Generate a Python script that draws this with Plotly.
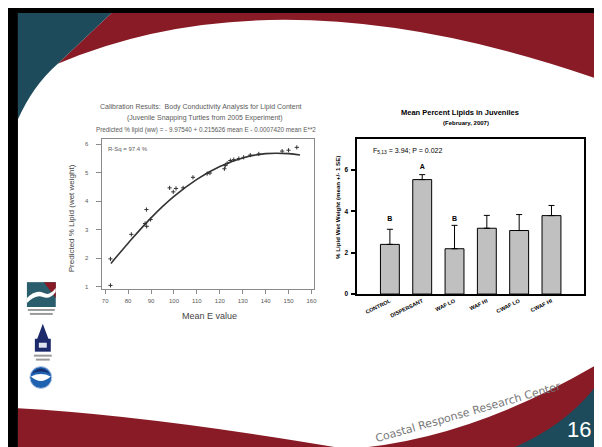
import plotly.graph_objects as go

W, H = 602, 447

# ---- Left chart: calibration scatter + fitted curve ----
mean_e = [72.3, 72.3, 81.4, 87.4, 88.0, 88.1, 89.8, 98.1, 99.7, 100.9, 104.0, 108.3,
          114.5, 115.7, 122.0, 122.4, 123.2, 124.6, 126.1, 128.3, 130.4, 133.3, 137.0,
          147.2, 150.0, 153.6]
pred_lipid = [1.05, 1.98, 2.84, 3.22, 3.71, 3.12, 3.36, 4.47, 4.33, 4.45, 4.47, 4.84,
              4.97, 4.99, 5.14, 5.25, 5.33, 5.43, 5.46, 5.50, 5.54, 5.62, 5.66,
              5.76, 5.79, 5.89]
fit_e = [72.5, 80, 90, 100, 110, 120, 130, 140, 150, 155]
fit_lipid = [1.82, 2.53, 3.42, 4.17, 4.77, 5.22, 5.52, 5.67, 5.67, 5.62]
calib_xticks = [70, 80, 90, 100, 110, 120, 130, 140, 150, 160]
calib_yticks = [1, 2, 3, 4, 5, 6]

# ---- Right chart: mean percent lipids ----
categories = ["CONTROL", "DISPERSANT", "WAF LO", "WAF HI", "CWAF LO", "CWAF HI"]
mean_lipid = [2.40, 5.53, 2.19, 3.18, 3.07, 3.79]
se_lipid = [0.73, 0.24, 1.13, 0.62, 0.77, 0.49]
group_letters = ["B", "A", "B"]
letter_cats = ["CONTROL", "DISPERSANT", "WAF LO"]
letter_y = [3.63, 6.14, 3.63]
bar_yticks = [0, 2, 4, 6]

FONT = "Liberation Sans"
GRAY = "#5a5a5a"
TEAL = "#1e4b5b"
RED = "#891b26"


def px(x):
    return x / W


def py(y):
    return 1 - y / H


def P(x, y):
    return f"{px(x):.4f},{py(y):.4f}"


fig = go.Figure()

fig.add_trace(go.Scatter(
    x=fit_e, y=fit_lipid, mode="lines", line=dict(color="#333333", width=1.6, shape="spline"),
    xaxis="x", yaxis="y", showlegend=False, hoverinfo="skip"))
fig.add_trace(go.Scatter(
    x=mean_e, y=pred_lipid, mode="markers",
    marker=dict(symbol="cross-thin", size=3, line=dict(color="#333333", width=1)),
    xaxis="x", yaxis="y", showlegend=False))

fig.add_trace(go.Bar(
    x=categories, y=mean_lipid, width=0.585,
    marker=dict(color="#c0c0c0", line=dict(color="black", width=1)),
    error_y=dict(type="data", array=se_lipid, arrayminus=[0] * len(se_lipid),
                 symmetric=False, color="black", thickness=1, width=3),
    xaxis="x2", yaxis="y2", showlegend=False))

fig.add_trace(go.Scatter(
    x=letter_cats, y=letter_y, mode="text", text=group_letters,
    textfont=dict(family=FONT, size=7, color="black", weight="bold"),
    xaxis="x2", yaxis="y2", showlegend=False, hoverinfo="skip"))

fig.update_layout(
    width=W, height=H, margin=dict(l=0, r=0, t=0, b=0),
    paper_bgcolor="white", plot_bgcolor="white",
    font=dict(family=FONT),
    xaxis=dict(domain=[px(94), px(308)], range=[68.4, 161.3], tickvals=calib_xticks,
               anchor="y",
               showgrid=False, zeroline=False, showline=True, mirror=True,
               linecolor="#8a8a8a", linewidth=1, ticks="outside", ticklen=4,
               tickcolor="#8a8a8a", ticklabelstandoff=2,
               tickfont=dict(size=6, color=GRAY, family=FONT)),
    yaxis=dict(domain=[py(283), py(132)], range=[0.92, 6.18], tickvals=calib_yticks,
               anchor="x",
               showgrid=False, zeroline=False, showline=True, mirror=True,
               linecolor="#8a8a8a", linewidth=1, ticks="outside", ticklen=5,
               tickcolor="#8a8a8a", ticklabelstandoff=6,
               tickfont=dict(size=6, color=GRAY, family=FONT)),
    xaxis2=dict(domain=[px(351), px(579)], range=[-1.01, 6.01], type="category",
                anchor="y2",
                showgrid=False, zeroline=False, showline=True, mirror=True,
                linecolor="black", linewidth=1.5, ticks="", tickangle=-26,
                tickfont=dict(size=5.5, color="black", family=FONT, weight="bold")),
    yaxis2=dict(domain=[py(288), py(131.7)], range=[0, 7.5], tickvals=bar_yticks,
                anchor="x2",
                showgrid=False, zeroline=False, showline=True, mirror=True,
                linecolor="black", linewidth=1.5, ticks="outside", ticklen=5,
                tickwidth=1.5, tickcolor="black", ticklabelstandoff=1,
                tickfont=dict(size=6.5, color="black", family=FONT, weight="bold")),
)

ann = []


def text(x, y, s, size, color="black", bold=False, angle=0, xanchor="center", family=FONT):
    ann.append(dict(x=px(x), y=py(y), xref="paper", yref="paper", text=s, showarrow=False,
                    xanchor=xanchor, yanchor="middle", textangle=angle,
                    font=dict(family=family, size=size, color=color,
                              weight="bold" if bold else "normal")))


text(194, 100, "Calibration Results:  Body Conductivity Analysis for Lipid Content", 7, GRAY)
text(198, 111, "(Juvenile Snapping Turtles from 2005 Experiment)", 7, GRAY)
text(199, 123, "Predicted % lipid (ww) = - 9.97540 + 0.215626 mean E - 0.0007420 mean E**2", 6.3, GRAY)
text(98, 141.5, "R-Sq = 97.4 %", 6, GRAY, xanchor="left")
text(203, 310, "Mean E value", 9, "#444444")
text(64, 212, "Predicted % Lipid (wet weight)", 8, "#444444", angle=-90)

text(454, 105, "Mean Percent Lipids in Juveniles", 7.5, bold=True)
text(460, 115.5, "(February, 2007)", 6, bold=True)
text(365, 143.5, "F<sub>5,13</sub> = 3.94; P = 0.022", 7, xanchor="left")
text(331, 201, "% Lipid Wet Weight (mean +/- 1 SE)", 6.2, bold=True, angle=-90)

text(462, 407, "Coastal Response Research Center", 11, "#777777", angle=-16,
     family="DejaVu Sans")
text(574, 424, "16", 22, "white")

shapes = []


def path(d, fill):
    shapes.append(dict(type="path", path=d, xref="paper", yref="paper",
                       fillcolor=fill, line=dict(width=0), layer="below"))


def rect(x0, y0, x1, y1, fill, layer="below"):
    shapes.append(dict(type="rect", x0=px(x0), x1=px(x1), y0=py(y1), y1=py(y0),
                       xref="paper", yref="paper", fillcolor=fill, line=dict(width=0),
                       layer=layer))


# slide decoration
path(f"M{P(104,5)} L{P(597,5)} L{P(597,73)} Q{P(276,-40)} {P(50,56)} Z", RED)
path(f"M{P(10,5)} L{P(104,5)} L{P(50,56)} Q{P(25,78)} {P(10,112)} Z", TEAL)
path(f"M{P(10,403)} Q{P(140,410)} {P(340,444)} Q{P(463,436)} {P(597,356)} "
     f"L{P(597,444)} L{P(10,444)} Z", RED)
path(f"M{P(505,444)} Q{P(566,418)} {P(597,372)} L{P(597,444)} Z", TEAL)

# left logos (simplified)
rect(19, 276, 48, 301, "#2b5e6c")
path(f"M{P(36,276)} L{P(48,276)} L{P(48,292)} Q{P(42,284)} {P(36,276)} Z", RED)
path(f"M{P(19,292)} Q{P(28,283)} {P(36,287)} Q{P(42,290)} {P(48,282)} L{P(48,286)} "
     f"Q{P(42,294)} {P(35,291)} Q{P(28,288)} {P(19,297)} Z", "white")
rect(20, 303, 47, 305, "#9a9a9a")
rect(22, 307, 45, 309, "#9a9a9a")
path(f"M{P(35,318)} L{P(29,334)} L{P(41,334)} Z", "#1c2a6b")
rect(27, 333, 43, 346, "#1c2a6b")
rect(31, 337, 39, 342, "#dfe3f0")
rect(26, 349, 44, 351, "#9a9a9a")
rect(28, 353, 42, 355, "#9a9a9a")
shapes.append(dict(type="circle", x0=px(22), x1=px(44), y0=py(383), y1=py(361),
                   xref="paper", yref="paper", fillcolor="#1f63b0",
                   line=dict(color="#b9c9e6", width=1), layer="below"))
path(f"M{P(23,371)} Q{P(33,380)} {P(43,371)} Q{P(33,366)} {P(23,371)} Z", "white")
path(f"M{P(24,368)} Q{P(33,358)} {P(42,368)} Q{P(33,364)} {P(24,368)} Z", "#16306e")

# black frame
rect(0, 0, 602, 5, "black", "above")
rect(0, 0, 10, 447, "black", "above")
rect(597, 0, 602, 447, "black", "above")
rect(0, 444, 602, 447, "black", "above")

fig.update_layout(annotations=ann, shapes=shapes)
fig.write_html("out.html")
